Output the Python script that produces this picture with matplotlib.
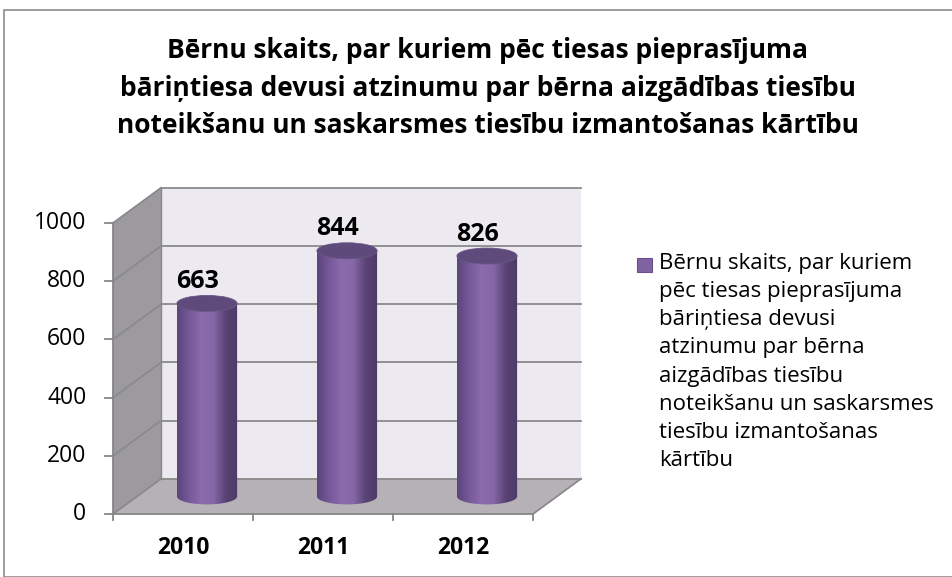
import matplotlib
matplotlib.use("Agg")
import matplotlib.pyplot as plt
import numpy as np
from matplotlib.patches import Polygon, Ellipse, Rectangle
from matplotlib.colors import LinearSegmentedColormap

# data
years = ["2010", "2011", "2012"]
values = [663, 844, 826]
yticks = [0, 200, 400, 600, 800, 1000]
title = ("Bērnu skaits, par kuriem pēc tiesas pieprasījuma\n"
         "bāriņtiesa devusi atzinumu par bērna aizgādības tiesību\n"
         "noteikšanu un saskarsmes tiesību izmantošanas kārtību")
legend_text = ("Bērnu skaits, par kuriem\npēc tiesas pieprasījuma\nbāriņtiesa devusi\n"
               "atzinumu par bērna\naizgādības tiesību\nnoteikšanu un saskarsmes\n"
               "tiesību izmantošanas\nkārtību")

plt.rcParams['font.family'] = ['Open Sans', 'DejaVu Sans']

W, H = 953, 577
fig = plt.figure(figsize=(W / 100, H / 100), dpi=100, facecolor='white')

# outer frame
fig.patches.append(Rectangle((4 / W, 0), 1.2, (H - 10) / H, transform=fig.transFigure,
                             fill=False, edgecolor='#8c8c8c', lw=1.2))

# front plane of the plot area
ax = fig.add_axes([113 / W, 63 / H, 420 / W, 291 / H])
ax.set_xlim(-0.5, 2.5)
ax.set_ylim(0, 1000)
ax.axis('off')

dx, dy = 0.343, 121  # depth offset (categories, value units)
x0, x1 = -0.5, 2.5
ymax = 1000
grid_c = '#8a8a8a'

# back wall
ax.add_patch(Polygon([(x0 + dx, dy), (x1 + dx, dy), (x1 + dx, ymax + dy), (x0 + dx, ymax + dy)],
                     closed=True, facecolor='#ece9f1', edgecolor='none', clip_on=False, zorder=1))
# left wall
ax.add_patch(Polygon([(x0, 0), (x0 + dx, dy), (x0 + dx, ymax + dy), (x0, ymax)],
                     closed=True, facecolor='#9c9a9e', edgecolor='none', clip_on=False, zorder=1))
# floor
ax.add_patch(Polygon([(x0, 0), (x1, 0), (x1 + dx, dy), (x0 + dx, dy)],
                     closed=True, facecolor='#b5b1b6', edgecolor='none', clip_on=False, zorder=1))

# gridlines
for v in yticks:
    ax.plot([x0 + dx, x1 + dx], [v + dy, v + dy], color=grid_c, lw=1.3, clip_on=False, zorder=2)
    ax.plot([x0, x0 + dx], [v, v + dy], color=grid_c, lw=1.3, clip_on=False, zorder=2)
    ax.plot([x0 - 0.055, x0], [v, v], color='#868686', lw=1.3, clip_on=False, zorder=2)
    ax.text(x0 - 0.19, v, str(v), ha='right', va='center', fontsize=16.5, color='black')
ax.plot([x0 + dx, x0 + dx], [dy, ymax + dy], color=grid_c, lw=1.0, clip_on=False, zorder=2)
ax.plot([x1, x1 + dx], [0, dy], color=grid_c, lw=1.3, clip_on=False, zorder=2)
ax.plot([x0, x0], [0, ymax], color='#868686', lw=1.3, clip_on=False, zorder=2)
ax.plot([x0, x1], [0, 0], color='#868686', lw=1.3, clip_on=False, zorder=2)
for b in [-0.5, 0.5, 1.5, 2.5]:
    ax.plot([b, b], [0, -22], color='#868686', lw=1.3, clip_on=False, zorder=2)

for i, y in enumerate(years):
    ax.text(i, -118, y, ha='center', va='center', fontsize=16.5, fontweight='bold')

# cylinders
cmap = LinearSegmentedColormap.from_list('cyl', ['#5a4478', '#76599c', '#8a6bab', '#8567a7', '#5a4375', '#4d3a66'])
grad = np.linspace(0, 1, 256).reshape(1, -1)
w = 0.43
eh = 55
for i, v in enumerate(values):
    cx = i + dx / 2
    yb = dy / 2
    yt = v + dy / 2
    t = np.linspace(np.pi, 2 * np.pi, 60)
    pts = [(cx - w / 2, yt)] + list(zip(cx + w / 2 * np.cos(t), yb + eh / 2 * np.sin(t))) + [(cx + w / 2, yt)]
    body = Polygon(pts, closed=True, facecolor='none', edgecolor='none', clip_on=False)
    ax.add_patch(body)
    im = ax.imshow(grad, cmap=cmap, aspect='auto', extent=[cx - w / 2, cx + w / 2, yb - eh, yt],
                   zorder=3, clip_on=True)
    im.set_clip_path(body)
    ax.add_patch(Ellipse((cx, yt), w, eh, facecolor='#5e4a7b', edgecolor='#6a5588', lw=0.6,
                         zorder=4, clip_on=False))
    ax.text(cx - 0.07, yt + 75, str(v), ha='center', va='center', fontsize=18, fontweight='bold', zorder=5)

ax.set_xlim(-0.5, 2.5)
ax.set_ylim(0, 1000)

# title
fig.text(488 / W, 1 - 88 / H, title, ha='center', va='center', fontsize=19, fontweight='bold',
         linespacing=1.48)

# legend
fig.patches.append(Rectangle((637 / W, 1 - 272 / H), 15 / W, 14 / H, transform=fig.transFigure,
                             facecolor='#8064a2', edgecolor='#6a5090', lw=0.8))
fig.text(659 / W, 1 - 362 / H, legend_text, ha='left', va='center', fontsize=16, linespacing=1.45,
         ma='left')

fig.savefig('out.png', dpi=100)
